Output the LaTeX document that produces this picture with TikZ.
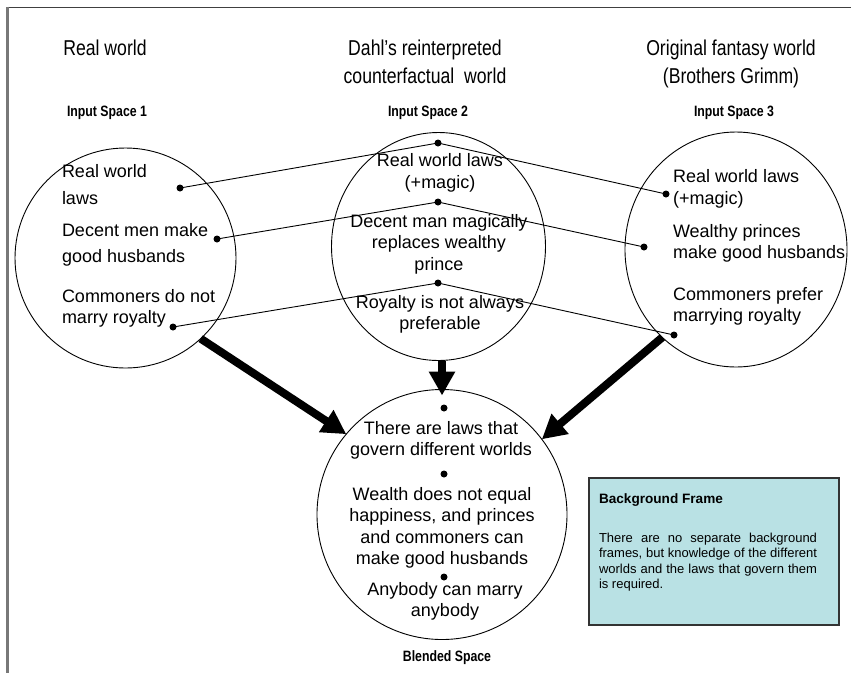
\documentclass[tikz,border=0pt]{standalone}
\usepackage{fontspec}
\setmainfont{Liberation Sans}
\newfontfamily\narrowfont[FakeStretch=0.82]{Liberation Sans}
\usetikzlibrary{arrows.meta,shapes.geometric}
\definecolor{framefill}{RGB}{185,225,228}
\definecolor{leftrule}{RGB}{120,120,120}
\definecolor{toprule}{RGB}{64,64,64}
\begin{document}
\begin{tikzpicture}[x=1pt,y=-1pt,
  every node/.style={inner sep=0pt, outer sep=0pt},
  space/.style={draw=black, line width=0.9pt, ellipse},
  world/.style={font=\narrowfont\fontsize{21.5}{28}\selectfont, align=center, anchor=north},
  spacelabel/.style={font=\narrowfont\bfseries\fontsize{15}{18}\selectfont, anchor=base},
  itemL/.style={font=\fontsize{18}{21.5}\selectfont, align=left, anchor=north west},
  itemC/.style={font=\fontsize{18}{21.5}\selectfont, align=center, anchor=north},
  dot/.style={circle, fill=black, minimum size=7pt},
  link/.style={line width=0.9pt},
  bigarrow/.style={line width=8pt, -{Triangle[length=24pt,width=25pt]}},
  framebox/.style={draw=black!80, line width=1.2pt, fill=framefill},
]
\useasboundingbox (0,0) rectangle (851,673);

% page rules
\draw[toprule, line width=1.5pt] (6.5,7.5) -- (851,7.5);
\draw[leftrule, line width=2.2pt] (7.5,6.5) -- (7.5,673);

% world titles
\node[world] (t1) at (105,40.1) {Real world};
\node[world] (t2) at (425,40.1) {Dahl’s reinterpreted\\counterfactual\ \ world};
\node[world] (t3) at (731,40.1) {Original fantasy world\\(Brothers Grimm)};

\node[spacelabel] (s1) at (107,116) {Input Space 1};
\node[spacelabel] (s2) at (428,116) {Input Space 2};
\node[spacelabel] (s3) at (734,116) {Input Space 3};

% mental spaces
\node[space, minimum width=221pt, minimum height=220pt] (c1) at (125.5,258) {};
\node[space, minimum width=214pt, minimum height=228pt] (c2) at (438.5,246.5) {};
\node[space, minimum width=222pt, minimum height=235pt] (c3) at (736,249.5) {};
\node[space, minimum width=250pt, minimum height=250pt] (bl) at (442,514.5) {};

\node[spacelabel] (s4) at (447,661) {Blended Space};

% input space 1
\node[itemL] (i11) at (62,164.1) {Real world\\[5.5pt]laws};
\node[itemL] (i12) at (62,223.1) {Decent men make\\[4.5pt]good husbands};
\node[itemL] (i13) at (62,289.1) {Commoners do not\\marry royalty};

% input space 2
\node[itemC] (i21) at (440,153.9) {Real world laws\\(+magic)};
\node[itemC] (i22) at (439,214.1) {Decent man magically\\replaces wealthy\\prince};
\node[itemC] (i23) at (440,295.1) {Royalty is not always\\preferable};

% input space 3
\node[itemL] (i31) at (673,169.9) {Real world laws\\(+magic)};
\node[itemL] (i32) at (673,224.1) {Wealthy princes\\make good husbands};
\node[itemL] (i33) at (673,287.1) {Commoners prefer\\marrying royalty};

% blended space
\node[itemC] (b1) at (441,421.1) {There are laws that\\govern different worlds};
\node[itemC] (b2) at (442,487.1) {Wealth does not equal\\happiness, and princes\\and commoners can\\make good husbands};
\node[itemC] (b3) at (445,582.1) {Anybody can marry\\anybody};

% element dots
\node[dot] (d11) at (180,188) {};
\node[dot] (d12) at (217,239) {};
\node[dot] (d13) at (173,327) {};
\node[dot] (d21) at (438,143) {};
\node[dot] (d22) at (438,202) {};
\node[dot] (d23) at (438,283) {};
\node[dot] (d31) at (666,194) {};
\node[dot] (d32) at (644,247) {};
\node[dot] (d33) at (674,335) {};
\node[dot] (e1) at (444,408) {};
\node[dot] (e2) at (444,474) {};
\node[dot] (e3) at (444,577) {};

% cross-space mappings
\draw[link] (d11.center) -- (d21.center) -- (d31.center);
\draw[link] (d12.center) -- (d22.center) -- (d32.center);
\draw[link] (d13.center) -- (d23.center) -- (d33.center);

% projections into the blend
\draw[bigarrow] (c1.-47) -- (bl.140);
\draw[bigarrow, shorten >=-6pt] (c2.south -| bl.north) -- (bl.north);
\draw[bigarrow] (c3.-130) -- (bl.37);

% background frame
\node[framebox, minimum width=250pt, minimum height=147pt, anchor=north west] (bg) at (589,478) {};
\node[font=\bfseries\fontsize{13.6}{16}\selectfont, anchor=base west] (bgt) at (599,503) {Background Frame};
\node[font=\fontsize{13}{15.5}\selectfont, text width=218pt, align=justify, anchor=north west] (bgb) at (599,532.6)
  {There are no separate background\linebreak frames, but knowledge of the different\linebreak worlds and the laws that govern them\linebreak is required.};
\end{tikzpicture}
\end{document}
